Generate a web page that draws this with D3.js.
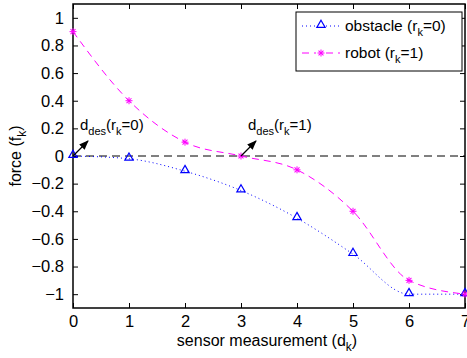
<!DOCTYPE html>
<html>
<head>
<meta charset="utf-8">
<script src="https://cdn.jsdelivr.net/npm/d3@7"></script>
<style>
  body { margin: 0; background: #fff; }
  text { font-family: "Liberation Sans", Arial, sans-serif; }
</style>
</head>
<body>
<script>
const xs = [0, 1, 2, 3, 4, 5, 6, 7];
const obstacle = [0, -0.02, -0.11, -0.25, -0.45, -0.71, -1, -1];
const robot = [0.9, 0.4, 0.1, 0, -0.1, -0.4, -0.9, -1];
const yTicks = [-1, -0.8, -0.6, -0.4, -0.2, 0, 0.2, 0.4, 0.6, 0.8, 1];
const notes = [{ x: 0, r: 0 }, { x: 3, r: 1 }];

const W = 467, H = 358;
const margin = { top: 4, right: 2, bottom: 50, left: 73 };
const width = W - margin.left - margin.right,
    height = H - margin.top - margin.bottom;

const svg = d3.select("body").append("svg")
    .attr("width", W).attr("height", H);
const g = svg.append("g")
    .attr("transform", `translate(${margin.left},${margin.top})`);

const x = d3.scaleLinear().domain([0, 7]).range([0, width]);
const y = d3.scaleLinear().domain([-1.1, 1.1]).range([height, 0]);

// axes with inward ticks
const axisStyle = sel => {
  sel.select(".domain").remove();
  sel.selectAll("line").attr("stroke", "#000");
  sel.selectAll("text").attr("font-size", 16.5).attr("fill", "#000");
};
g.append("g").attr("transform", `translate(0,${height})`)
    .call(d3.axisBottom(x).ticks(7).tickSize(-5).tickPadding(7).tickFormat(d3.format("d")))
    .call(axisStyle);
g.append("g")
    .call(d3.axisTop(x).ticks(7).tickSize(-5).tickFormat(""))
    .call(axisStyle);
g.append("g")
    .call(d3.axisLeft(y).tickValues(yTicks).tickSize(-5).tickPadding(9).tickFormat(d => d3.format("")(d).replace("-", "\u2212")))
    .call(axisStyle);
g.append("g").attr("transform", `translate(${width},0)`)
    .call(d3.axisRight(y).tickValues(yTicks).tickSize(-5).tickFormat(""))
    .call(axisStyle);

g.append("rect").attr("width", width).attr("height", height)
    .attr("fill", "none").attr("stroke", "#000").attr("stroke-width", 1.5);

// zero line
g.append("line")
    .attr("x1", x(0)).attr("x2", x(7)).attr("y1", y(0)).attr("y2", y(0))
    .attr("stroke", "#000").attr("stroke-dasharray", "8,5");

const line = d3.line().x((d, i) => x(xs[i])).y(d => y(d)).curve(d3.curveMonotoneX);

g.append("path").datum(obstacle).attr("d", line)
    .attr("fill", "none").attr("stroke", "#0000ff").attr("stroke-dasharray", "1,3");
g.append("path").datum(robot).attr("d", line)
    .attr("fill", "none").attr("stroke", "#ff00ff").attr("stroke-dasharray", "7,5");

const tri = d3.symbol().type(d3.symbolTriangle).size(30);
const star = (sel) => {
  sel.each(function () {
    const s = d3.select(this);
    [0, 45, 90, 135].forEach(a => {
      s.append("line").attr("x1", -3.5).attr("x2", 3.5).attr("y1", 0).attr("y2", 0)
        .attr("transform", `rotate(${a})`).attr("stroke", "#ff00ff").attr("stroke-width", 1);
    });
  });
};

g.selectAll(".tri").data(obstacle).join("path").attr("class", "tri")
    .attr("d", tri).attr("transform", (d, i) => `translate(${x(xs[i])},${y(d) - 1})`)
    .attr("fill", "none").attr("stroke", "#0000ff").attr("stroke-width", 1.2);
g.selectAll(".star").data(robot).join("g").attr("class", "star")
    .attr("transform", (d, i) => `translate(${x(xs[i])},${y(d)})`)
    .call(star);

// annotations
svg.append("defs").append("marker").attr("id", "ah")
    .attr("viewBox", "0 0 10 10").attr("refX", 9).attr("refY", 5)
    .attr("markerWidth", 8).attr("markerHeight", 8).attr("orient", "auto")
    .append("path").attr("d", "M0,1 L10,5 L0,9 Z").attr("fill", "#000");

const ann = g.selectAll(".ann").data(notes).join("g").attr("class", "ann")
    .attr("transform", d => `translate(${x(d.x)},${y(0)})`);
ann.append("line").attr("x1", 0).attr("y1", 0).attr("x2", 15).attr("y2", -15)
    .attr("stroke", "#000").attr("stroke-width", 1.2).attr("marker-end", "url(#ah)");
const at = ann.append("text").attr("x", 7).attr("y", -26).attr("font-size", 15);
at.append("tspan").text("d");
at.append("tspan").attr("dy", 5).attr("font-size", 11).text("des");
at.append("tspan").attr("dy", -5).text("(r");
at.append("tspan").attr("dy", 5).attr("font-size", 11).text("k");
at.append("tspan").attr("dy", -5).text(d => `=${d.r})`);

// axis labels
const xl = svg.append("text").attr("x", margin.left + width / 2 - 2).attr("y", 346)
    .attr("text-anchor", "middle").attr("font-size", 16);
xl.append("tspan").text("sensor measurement (d");
xl.append("tspan").attr("dy", 5).attr("font-size", 12).text("k");
xl.append("tspan").attr("dy", -5).text(")");

const yl = svg.append("text").attr("transform", `translate(21,${margin.top + y(0)}) rotate(-90)`)
    .attr("text-anchor", "middle").attr("font-size", 16);
yl.append("tspan").text("force (f");
yl.append("tspan").attr("dy", 5).attr("font-size", 12).text("k");
yl.append("tspan").attr("dy", -5).text(")");

// legend
const lg = svg.append("g").attr("transform", "translate(296,12)");
lg.append("rect").attr("width", 166).attr("height", 59)
    .attr("fill", "#fff").attr("stroke", "#000").attr("stroke-width", 1);
const items = [
  { name: "obstacle", r: 0, color: "#0000ff", dash: "1,3", mark: "tri" },
  { name: "robot", r: 1, color: "#ff00ff", dash: "7,5", mark: "star" }
];
const li = lg.selectAll(".li").data(items).join("g").attr("class", "li")
    .attr("transform", (d, i) => `translate(0,${14 + i * 27})`);
li.append("line").attr("x1", 6).attr("x2", 44).attr("stroke", d => d.color)
    .attr("stroke-dasharray", d => d.dash);
li.filter(d => d.mark === "tri").append("path").attr("d", tri)
    .attr("transform", "translate(25,-1)").attr("fill", "#fff")
    .attr("stroke", "#0000ff").attr("stroke-width", 1.2);
li.filter(d => d.mark === "star").append("g").attr("transform", "translate(25,0)")
    .call(sel => sel.append("rect").attr("x", -5).attr("y", -5).attr("width", 10).attr("height", 10).attr("fill", "#fff"))
    .call(star);
const lt = li.append("text").attr("x", 49).attr("y", 5).attr("font-size", 15.5);
lt.append("tspan").text(d => `${d.name} (r`);
lt.append("tspan").attr("dy", 5).attr("font-size", 11).text("k");
lt.append("tspan").attr("dy", -5).text(d => `=${d.r})`);
</script>
</body>
</html>
